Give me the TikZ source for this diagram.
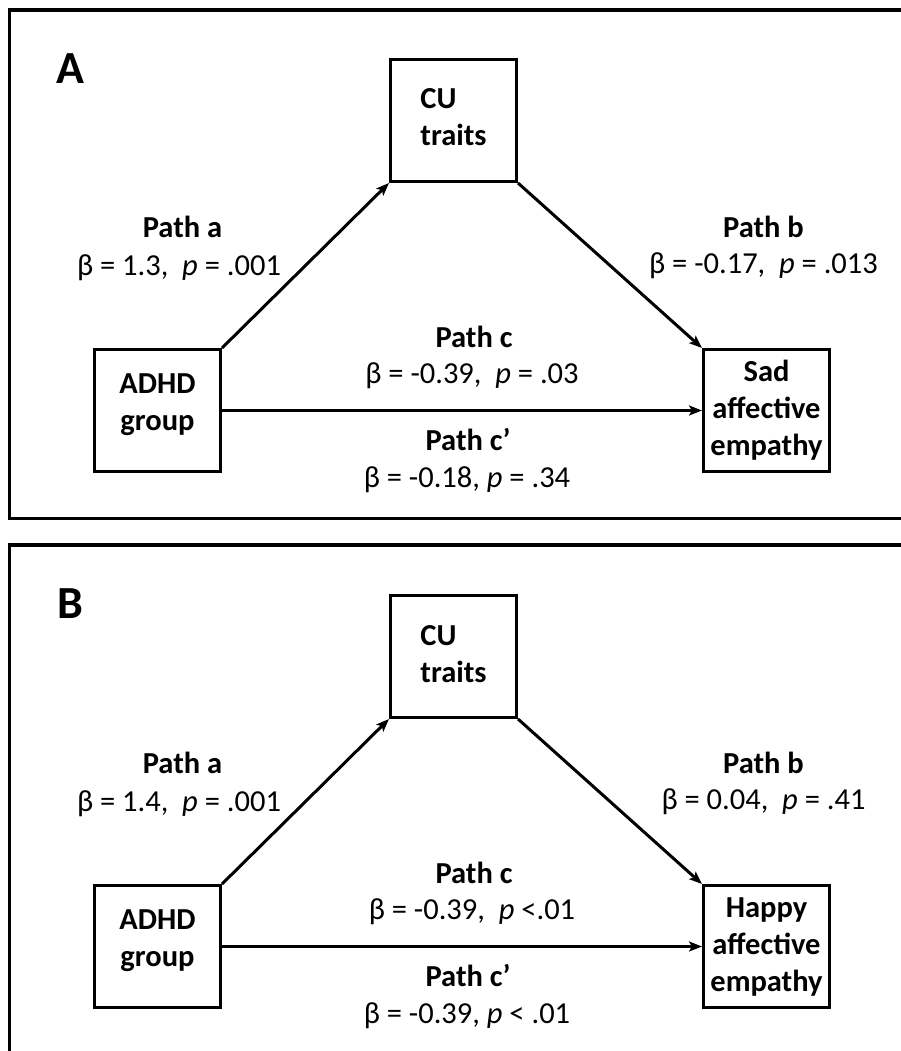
\documentclass[tikz,border=0pt]{standalone}
\usepackage{fontspec}
\setmainfont{Carlito}
\usetikzlibrary{arrows.meta}
\begin{document}
\begin{tikzpicture}[x=1pt,y=-1pt,
  box/.style={draw, line width=3pt, minimum width=126pt, minimum height=122pt, inner sep=0pt, align=center, font=\fontsize{30.5}{37}\selectfont\bfseries},
  lbl/.style={anchor=base, inner sep=0pt, font=\fontsize{30.5}{37}\selectfont},
  blbl/.style={lbl, font=\fontsize{30.5}{37}\selectfont\bfseries},
  conn/.style={line width=3pt, -{Stealth[length=13pt,width=10pt,inset=3pt]}},
  frame/.style={line width=3.5pt},
  panel/.style={anchor=base west, inner sep=0pt, font=\fontsize{46}{46}\selectfont\bfseries}]
\useasboundingbox (0,0) rectangle (901,1051);
\clip (0,0) rectangle (901,1051);
% ---------- Panel A ----------
\draw[frame] (9.5,10) rectangle (940,518.5);
\node[panel] (labA) at (56,84) {A};
\node[box, text depth=6pt, align=left] (acu) at (453.5,120.5) {CU\\traits};
\node[box, text depth=16pt] (aadhd) at (157.5,410.5) {ADHD\\group};
\node[box] (asad) at (766.5,410.5) {Sad\\affective\\empathy};
\draw[conn] (aadhd.north east) -- (acu.south west);
\draw[conn] (acu.south east) -- (asad.north west);
\draw[conn] (aadhd.east) -- (asad.west);
\node[blbl] (apa1) at (182.5,237) {Path a};
\node[lbl] (apa2) at (179,275) {β = 1.3,\ \ \textit{p} = .001};
\node[blbl] (apb1) at (763.5,237) {Path b};
\node[lbl] (apb2) at (763.5,273) {β = -0.17,\ \ \textit{p} = .013};
\node[blbl] (apc1) at (474,347) {Path c};
\node[lbl] (apc2) at (472,383) {β = -0.39,\ \ \textit{p} = .03};
\node[blbl] (apd1) at (468,450) {Path c’};
\node[lbl] (apd2) at (467,487) {β = -0.18, \textit{p} = .34};
% ---------- Panel B ----------
\begin{scope}[shift={(0,536)}]
\draw[frame] (9.5,9) rectangle (940,600);
\node[panel] (labB) at (57,82) {B};
\node[box, text depth=6pt, align=left] (bcu) at (453.5,120.5) {CU\\traits};
\node[box, text depth=16pt] (badhd) at (157.5,410.5) {ADHD\\group};
\node[box] (bhap) at (766.5,410.5) {Happy\\affective\\empathy};
\draw[conn] (badhd.north east) -- (bcu.south west);
\draw[conn] (bcu.south east) -- (bhap.north west);
\draw[conn] (badhd.east) -- (bhap.west);
\node[blbl] (bpa1) at (182.5,237) {Path a};
\node[lbl] (bpa2) at (179,275) {β = 1.4,\ \ \textit{p} = .001};
\node[blbl] (bpb1) at (763.5,237) {Path b};
\node[lbl] (bpb2) at (763.5,273) {β = 0.04,\ \ \textit{p} = .41};
\node[blbl] (bpc1) at (474,347) {Path c};
\node[lbl] (bpc2) at (472,383) {β = -0.39,\ \ \textit{p} <.01};
\node[blbl] (bpd1) at (468,450) {Path c’};
\node[lbl] (bpd2) at (467,487) {β = -0.39, \textit{p} < .01};
\end{scope}
\end{tikzpicture}
\end{document}
